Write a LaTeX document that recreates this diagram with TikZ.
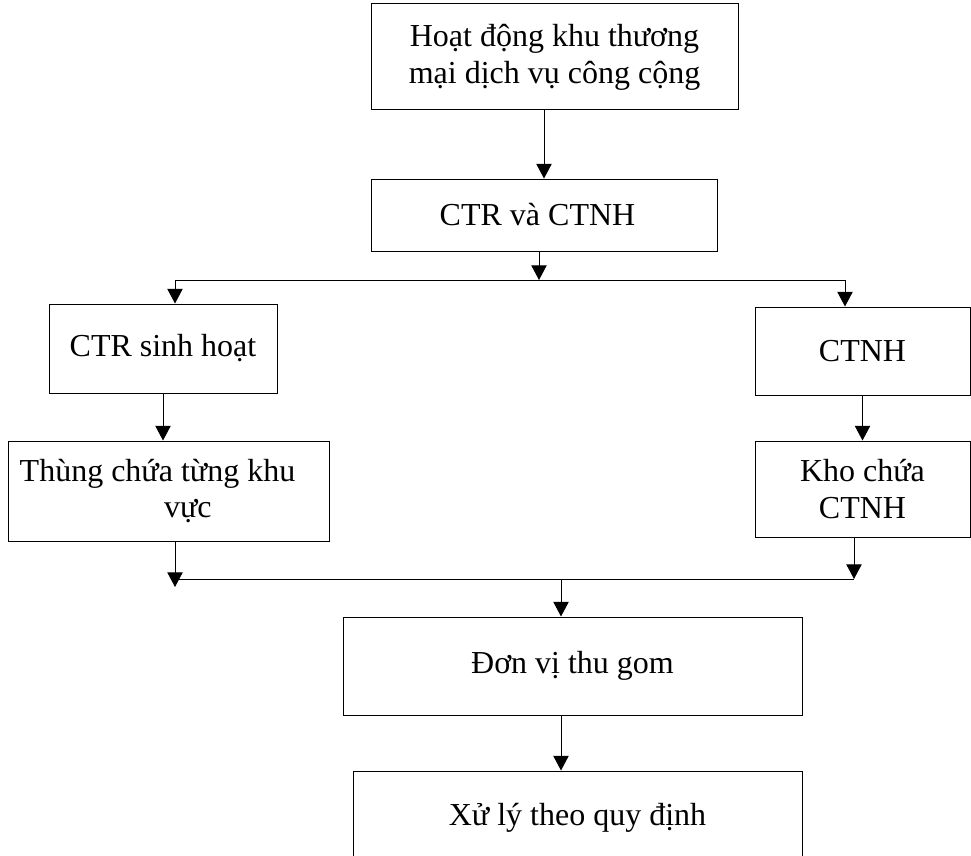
\documentclass[tikz,border=0pt]{standalone}
\usepackage{fontspec}
\setmainfont{Liberation Serif}
\usetikzlibrary{arrows.meta}
\begin{document}
\begin{tikzpicture}[x=0.75pt,y=-0.75pt,
  box/.style={draw=black, line width=0.75pt, inner sep=0pt, align=center,
    font=\fontsize{24}{27.5}\selectfont},
  arr/.style={draw=black, line width=0.75pt, -{Triangle[length=11pt,width=11.5pt]}},
  ln/.style={draw=black, line width=0.75pt}]
\useasboundingbox (0,0) rectangle (971,856);
\clip (0,0) rectangle (971,856);

\node[box, minimum width=367*0.75pt, minimum height=106*0.75pt] (b1) at (554.5,57)
  {Hoạt động khu thương\\mại dịch vụ công cộng};
\node[box, minimum width=346*0.75pt, minimum height=72*0.75pt] (b2) at (544,215)
  {CTR và CTNH\rule{9.75pt}{0pt}};
\node[box, minimum width=228*0.75pt, minimum height=89*0.75pt] (b3) at (163,348.5)
  {CTR sinh hoạt};
\node[box, minimum width=215*0.75pt, minimum height=88*0.75pt] (b4) at (862.5,351)
  {CTNH};
\node[box, minimum width=321*0.75pt, minimum height=100*0.75pt] (b5) at (168.5,491)
  {Thùng chứa từng khu\rule{16.5pt}{0pt}\\\rule{29pt}{0pt}vực};
\node[box, minimum width=215*0.75pt, minimum height=96*0.75pt] (b6) at (862.5,489)
  {Kho chứa\\CTNH};
\node[box, minimum width=459*0.75pt, minimum height=98*0.75pt] (b7) at (572.5,666)
  {Đơn vị thu gom};
\node[box, minimum width=449*0.75pt, minimum height=94*0.75pt] (b8) at (577.5,818)
  {Xử lý theo quy định};

\coordinate (j1) at (539,280);
\coordinate (l1) at (175,280);
\coordinate (r1) at (845,280);
\coordinate (l2) at (175,579);
\coordinate (l2e) at (175,587);
\coordinate (r2) at (854,579);
\coordinate (m2) at (561,579);

\draw[arr] (b1.south -| b2.north) -- (b2.north);
\draw[arr] (b2.south -| j1) -- (j1);
\draw[ln] (l1) -- (r1);
\draw[arr] (l1) -- (l1 |- b3.north);
\draw[arr] (r1) -- (r1 |- b4.north);
\draw[arr] (b3.south) -- (b3.south |- b5.north);
\draw[arr] (b4.south) -- (b4.south |- b6.north);
\draw[arr] (b5.south -| l2) -- (l2e);
\draw[arr] (b6.south -| r2) -- (r2);
\draw[ln] (l2) -- (r2);
\draw[arr] (m2) -- (m2 |- b7.north);
\draw[arr] (b7.south -| m2) -- (m2 |- b8.north);
\end{tikzpicture}
\end{document}
